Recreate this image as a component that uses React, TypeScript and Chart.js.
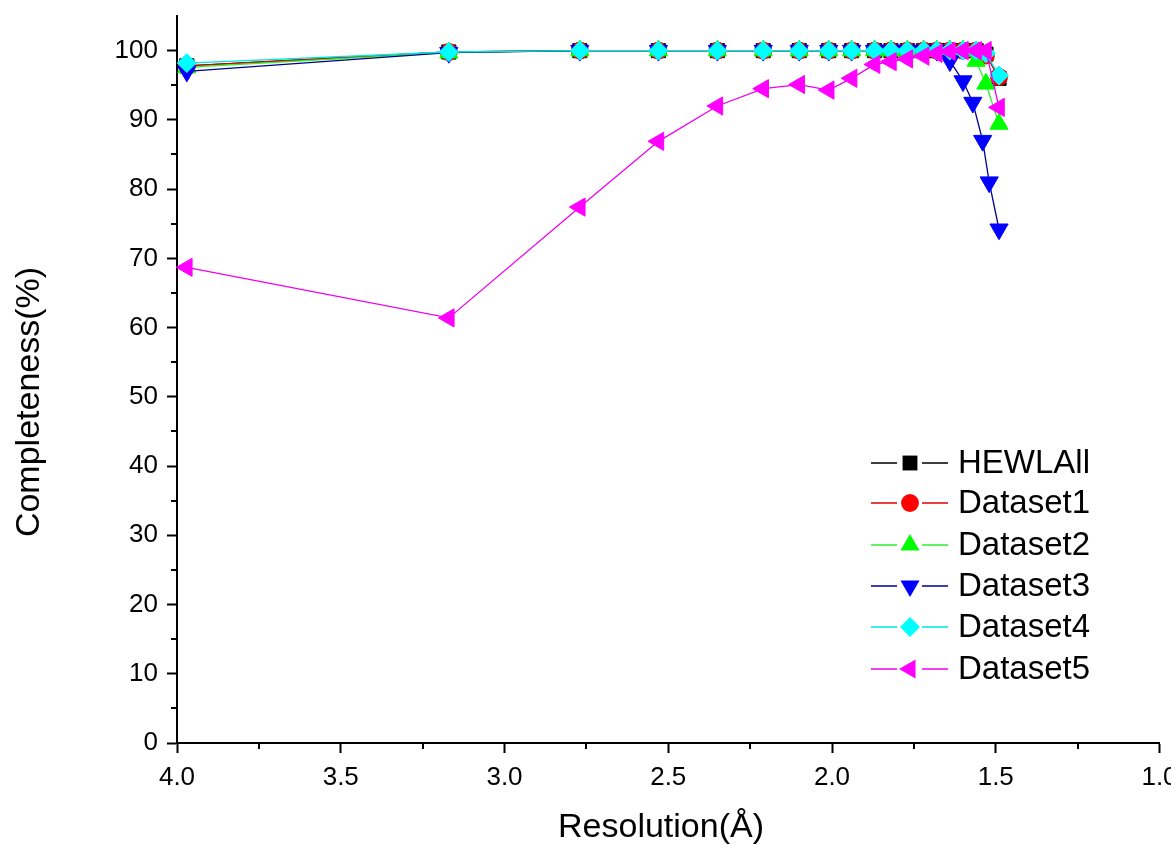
import { useEffect, useRef } from "react";
import { Chart, registerables } from "chart.js";

Chart.register(...registerables);

// ---- data ----
const resolution = [3.97, 3.17, 2.77, 2.53, 2.35, 2.21, 2.1, 2.01, 1.94, 1.87, 1.82, 1.77, 1.72, 1.68, 1.64, 1.6, 1.56, 1.53, 1.49];
const resolutionSet3 = [3.97, 3.17, 2.77, 2.53, 2.35, 2.21, 2.1, 2.01, 1.94, 1.87, 1.82, 1.77, 1.72, 1.68, 1.64, 1.6, 1.57, 1.54, 1.52, 1.49];

const hewlAll = [97.8, 99.8, 100, 100, 100, 100, 100, 100, 100, 100, 100, 100, 100, 100, 100, 100, 100, 99.5, 96.0];
const dataset1 = [97.8, 99.8, 100, 100, 100, 100, 100, 100, 100, 100, 100, 100, 100, 100, 100, 100, 100, 99.3, 96.2];
const dataset2 = [97.6, 99.7, 100, 100, 100, 100, 100, 100, 100, 100, 100, 100, 100, 100, 100, 100, 98.5, 95.2, 89.4];
const dataset3 = [97.0, 99.7, 100, 100, 100, 100, 100, 100, 100, 100, 100, 100, 100, 100, 98.5, 95.6, 92.5, 87.0, 81.0, 74.2];
const dataset4 = [98.2, 99.8, 100, 100, 100, 100, 100, 100, 100, 100, 100, 100, 100, 100, 100, 100, 100, 99.6, 96.4];
const dataset5 = [68.7, 61.4, 77.4, 86.9, 92.0, 94.5, 95.1, 94.3, 96.0, 98.0, 98.4, 98.8, 99.2, 99.6, 99.9, 100, 100, 100, 91.8];

const seriesNames = ["HEWLAll", "Dataset1", "Dataset2", "Dataset3", "Dataset4", "Dataset5"];
const seriesX = [resolution, resolution, resolution, resolutionSet3, resolution, resolution];
const seriesY = [hewlAll, dataset1, dataset2, dataset3, dataset4, dataset5];
const markerColors = ["#000000", "#FF0000", "#00FF00", "#0000FF", "#00FFFF", "#FF00FF"];
const lineColors = ["#000000", "#E00000", "#33EE33", "#000090", "#00E5E5", "#EE00EE"];
const pointStyles = ["rect", "circle", "triangle", "triangle", "rectRot", "triangle"];
const pointRotations = [0, 0, 0, 180, 0, -90];
const pointRadii = [10, 8.5, 10.5, 10.5, 9.5, 10.5];

const xMajorTicks = [1.0, 1.5, 2.0, 2.5, 3.0, 3.5, 4.0];
const xMinorTicks = [1.25, 1.75, 2.25, 2.75, 3.25, 3.75];
const yMajorTicks = [0, 10, 20, 30, 40, 50, 60, 70, 80, 90, 100];
const yMinorTicks = [5, 15, 25, 35, 45, 55, 65, 75, 85, 95];

const xTitle = "Resolution(Å)";
const yTitle = "Completeness(%)";

const FONT = "'Liberation Sans', Arial, sans-serif";

function drawMarker(ctx: CanvasRenderingContext2D, style: string, rot: number, x: number, y: number, r: number) {
  ctx.save();
  ctx.translate(x, y);
  ctx.rotate((rot * Math.PI) / 180);
  ctx.beginPath();
  if (style === "rect") {
    const s = r * Math.SQRT1_2;
    ctx.rect(-s, -s, 2 * s, 2 * s);
  } else if (style === "circle") {
    ctx.arc(0, 0, r, 0, Math.PI * 2);
  } else if (style === "triangle") {
    for (let i = 0; i < 3; i++) {
      const a = (i * 2 * Math.PI) / 3;
      const px = Math.sin(a) * r;
      const py = -Math.cos(a) * r;
      if (i === 0) ctx.moveTo(px, py);
      else ctx.lineTo(px, py);
    }
    ctx.closePath();
  } else if (style === "rectRot") {
    ctx.moveTo(0, -r);
    ctx.lineTo(r, 0);
    ctx.lineTo(0, r);
    ctx.lineTo(-r, 0);
    ctx.closePath();
  }
  ctx.fill();
  ctx.restore();
}

const decorPlugin = {
  id: "decor",
  afterDraw(chart: any) {
    const ctx: CanvasRenderingContext2D = chart.ctx;
    const xs = chart.scales.x;
    const ys = chart.scales.y;
    const area = chart.chartArea;
    ctx.save();
    // minor ticks
    ctx.strokeStyle = "#000";
    ctx.lineWidth = 2;
    ctx.beginPath();
    for (const v of xMinorTicks) {
      const px = Math.round(xs.getPixelForValue(v));
      ctx.moveTo(px, area.bottom);
      ctx.lineTo(px, area.bottom + 6);
    }
    for (const v of yMinorTicks) {
      const py = Math.round(ys.getPixelForValue(v));
      ctx.moveTo(area.left, py);
      ctx.lineTo(area.left - 6, py);
    }
    ctx.stroke();

    // axis titles
    ctx.fillStyle = "#000";
    ctx.font = `34px ${FONT}`;
    ctx.textAlign = "center";
    ctx.textBaseline = "middle";
    ctx.fillText(xTitle, 661, 828);
    ctx.save();
    ctx.translate(30, 402);
    ctx.rotate(-Math.PI / 2);
    ctx.fillText(yTitle, 0, 0);
    ctx.restore();

    // legend
    const rowY = [463, 503, 545, 586, 627, 669];
    for (let i = 0; i < seriesNames.length; i++) {
      const y = rowY[i];
      ctx.strokeStyle = lineColors[i];
      ctx.lineWidth = 1.5;
      ctx.beginPath();
      ctx.moveTo(871, y);
      ctx.lineTo(897, y);
      ctx.moveTo(922, y);
      ctx.lineTo(948, y);
      ctx.stroke();
      ctx.fillStyle = markerColors[i];
      drawMarker(ctx, pointStyles[i], pointRotations[i], 910, y, pointRadii[i] * 1.05);
      ctx.fillStyle = "#000";
      ctx.font = `33px ${FONT}`;
      ctx.textAlign = "left";
      ctx.textBaseline = "middle";
      ctx.fillText(seriesNames[i], 958, y + 1);
    }
    ctx.restore();
  },
};

export default function App() {
  const canvasRef = useRef<HTMLCanvasElement | null>(null);

  useEffect(() => {
    if (!canvasRef.current) return;
    const datasets = seriesNames.map((name, i) => ({
      label: name,
      data: seriesX[i].map((x, j) => ({ x, y: seriesY[i][j] })),
      borderColor: lineColors[i],
      backgroundColor: markerColors[i],
      borderWidth: 1.3,
      pointStyle: pointStyles[i],
      rotation: pointRotations[i],
      pointRadius: pointRadii[i],
      pointBackgroundColor: markerColors[i],
      pointBorderColor: markerColors[i],
      pointBorderWidth: 1,
      tension: 0,
      fill: false,
      clip: false,
      order: seriesNames.length - i,
    }));

    const chart = new Chart(canvasRef.current, {
      type: "line",
      data: { datasets },
      options: {
        animation: false,
        responsive: false,
        maintainAspectRatio: false,
        events: [],
        layout: { padding: { left: 0, right: 11, top: 16, bottom: 0 } },
        plugins: {
          legend: { display: false },
          tooltip: { enabled: false },
          title: { display: false },
        },
        scales: {
          x: {
            type: "linear",
            reverse: true,
            min: 1.0,
            max: 4.0,
            afterBuildTicks: (scale: any) => {
              scale.ticks = xMajorTicks.map((v) => ({ value: v }));
            },
            afterFit: (scale: any) => {
              scale.height = 107;
              scale.paddingLeft = 0;
              scale.paddingRight = 0;
            },
            ticks: {
              color: "#000",
              font: { family: FONT, size: 26 },
              padding: 9,
              maxRotation: 0,
              autoSkip: false,
              callback: (v: any) => Number(v).toFixed(1),
            },
            grid: {
              display: true,
              drawOnChartArea: false,
              drawTicks: true,
              tickLength: 10,
              tickWidth: 2,
              tickColor: "#000",
              color: "#000",
            },
            border: { display: true, color: "#000", width: 2 },
          },
          y: {
            type: "linear",
            min: 0,
            max: 105,
            afterBuildTicks: (scale: any) => {
              scale.ticks = yMajorTicks.map((v) => ({ value: v }));
            },
            afterFit: (scale: any) => {
              scale.width = 177;
              scale.paddingTop = 0;
              scale.paddingBottom = 0;
            },
            ticks: {
              color: "#000",
              font: { family: FONT, size: 26 },
              padding: 9,
              autoSkip: false,
              callback: (v: any) => String(v),
            },
            grid: {
              display: true,
              drawOnChartArea: false,
              drawTicks: true,
              tickLength: 10,
              tickWidth: 2,
              tickColor: "#000",
              color: "#000",
            },
            border: { display: true, color: "#000", width: 2 },
          },
        },
      },
      plugins: [decorPlugin],
    });
    return () => chart.destroy();
  }, []);

  return (
    <div style={{ position: "fixed", left: 0, top: 0, width: 1171, height: 850, background: "#fff" }}>
      <canvas ref={canvasRef} width={1171} height={850} style={{ display: "block" }} />
    </div>
  );
}
